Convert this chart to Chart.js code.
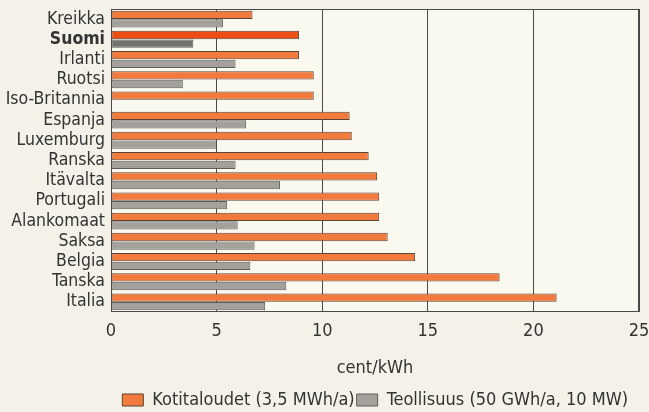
<!DOCTYPE html>
<html>
<head>
<meta charset="utf-8">
<script src="https://cdn.jsdelivr.net/npm/chart.js@4/dist/chart.umd.min.js"></script>
<style>
  html, body { margin: 0; padding: 0; background: #f4f2e8; }
  #wrap { width: 649px; height: 412px; position: relative; }
</style>
</head>
<body>
<div id="wrap"><canvas id="c" width="649" height="412"></canvas></div>
<script>
// Electricity prices, cent/kWh
const countries = ['Kreikka', 'Suomi', 'Irlanti', 'Ruotsi', 'Iso-Britannia', 'Espanja', 'Luxemburg',
  'Ranska', 'Itävalta', 'Portugali', 'Alankomaat', 'Saksa', 'Belgia', 'Tanska', 'Italia'];
const households = [6.7, 8.9, 8.9, 9.6, 9.6, 11.3, 11.4, 12.2, 12.6, 12.7, 12.7, 13.1, 14.4, 18.4, 21.1];
const industry = [5.3, 3.9, 5.9, 3.4, null, 6.4, 5.0, 5.9, 8.0, 5.5, 6.0, 6.8, 6.6, 8.3, 7.3];
const xTicks = [0, 5, 10, 15, 20, 25];
const seriesNames = ['Kotitaloudet (3,5 MWh/a)', 'Teollisuus (50 GWh/a, 10 MW)'];
const highlight = 'Suomi';

const FONT = "'Liberation Sans Narrow', 'DejaVu Sans Condensed', 'Arial Narrow', sans-serif";
const orange = '#f27a3c', orangeHi = '#ec4e14';
const grey = '#a4a19c', greyHi = '#74726e';
const edge = '#5c4434';
const greyEdge = '#5e5c58';

const isHi = countries.map(c => c === highlight);

// light plot background and a thin frame round the plot area
const frame = {
  id: 'frame',
  afterLayout(chart) {
    // pull the legend row in a little from the right edge
    const lg = chart.legend;
    if (lg) { lg.left -= 9; lg.right -= 9; }
  },
  beforeDraw(chart) {
    const { ctx, chartArea: a } = chart;
    ctx.save();
    ctx.fillStyle = '#faf9f0';
    ctx.fillRect(a.left, a.top, a.right - a.left, a.bottom - a.top);
    ctx.restore();
  },
  afterDraw(chart) {
    const { ctx, chartArea: a } = chart;
    ctx.save();
    ctx.strokeStyle = '#4a4a4a';
    ctx.lineWidth = 1;
    ctx.strokeRect(Math.round(a.left) + 0.5, Math.round(a.top) + 0.5,
      Math.round(a.right - a.left) - 1, Math.round(a.bottom - a.top) - 1);
    ctx.restore();
  }
};

new Chart(document.getElementById('c'), {
  type: 'bar',
  data: {
    labels: countries,
    datasets: [
      {
        label: seriesNames[0],
        data: households,
        backgroundColor: isHi.map(h => h ? orangeHi : orange),
        borderColor: edge,
        borderWidth: 1,
        borderSkipped: false,
        categoryPercentage: 0.85,
        barPercentage: 0.97
      },
      {
        label: seriesNames[1],
        data: industry,
        backgroundColor: isHi.map(h => h ? greyHi : grey),
        borderColor: greyEdge,
        borderWidth: 1,
        borderSkipped: false,
        categoryPercentage: 0.85,
        barPercentage: 0.97
      }
    ]
  },
  options: {
    indexAxis: 'y',
    responsive: false,
    animation: false,
    layout: { padding: { top: 9, right: 10, left: 0, bottom: -7 } },
    scales: {
      x: {
        min: 0, max: 25,
        afterBuildTicks(scale) { scale.ticks = xTicks.map(v => ({ value: v })); },
        afterFit(scale) {
          scale.height = 77;
          scale.paddingLeft = 0;
          scale.paddingRight = 0;
        },
        grid: { color: '#4a4a4a', lineWidth: 1, drawTicks: false },
        border: { display: false },
        ticks: { color: '#333', font: { family: FONT, size: 18 }, padding: 9, maxRotation: 0 },
        title: { display: true, text: 'cent/kWh', color: '#333', font: { family: FONT, size: 18 }, padding: { top: 12, bottom: 10 } }
      },
      y: {
        afterFit(scale) {
          scale.width = 111;
          scale.paddingTop = 0;
          scale.paddingBottom = 0;
        },
        grid: { display: false, drawTicks: false },
        border: { display: false },
        ticks: {
          autoSkip: false,
          color: '#333',
          padding: 6,
          font: ctx => ({ family: FONT, size: 17.5, weight: countries[ctx.index] === highlight ? 'bold' : 'normal' })
        }
      }
    },
    plugins: {
      tooltip: { enabled: false },
      legend: {
        position: 'bottom',
        align: 'end',
        labels: {
          color: '#333',
          font: { family: FONT, size: 18 },
          boxWidth: 21,
          boxHeight: 12,
          padding: 2,
          generateLabels: () => [
            { text: seriesNames[0], fillStyle: orange, strokeStyle: edge, lineWidth: 1, datasetIndex: 0, fontColor: '#333' },
            { text: seriesNames[1], fillStyle: grey, strokeStyle: greyEdge, lineWidth: 1, datasetIndex: 1, fontColor: '#333' }
          ]
        }
      }
    }
  },
  plugins: [frame]
});
</script>
</body>
</html>
